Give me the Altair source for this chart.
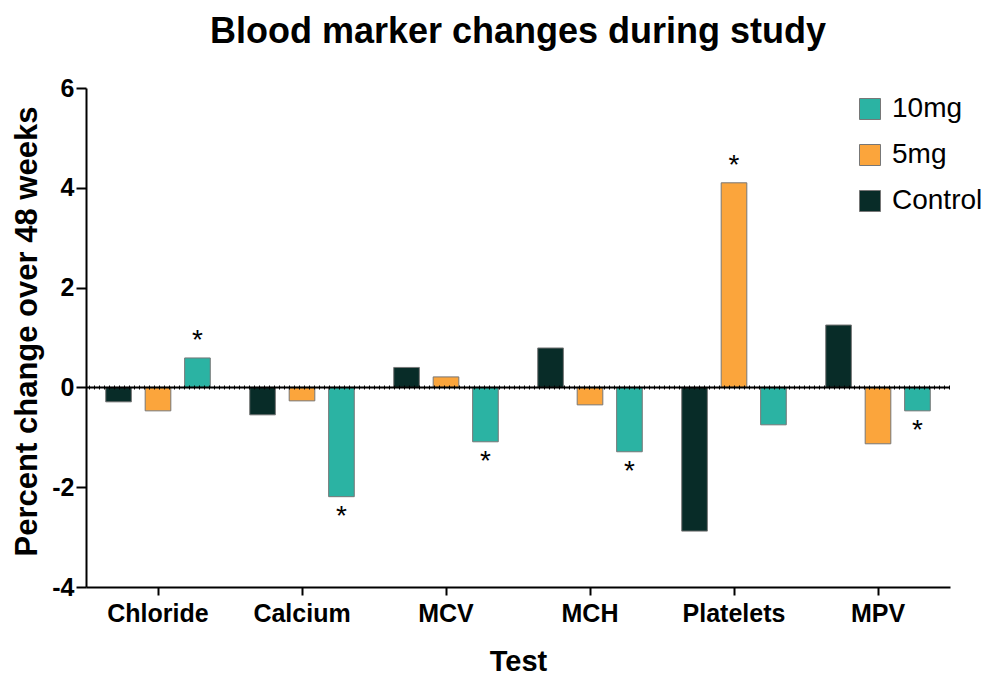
import altair as alt
import pandas as pd

tests = ["Chloride", "Calcium", "MCV", "MCH", "Platelets", "MPV"]
groups = ["Control", "5mg", "10mg"]
control = [-0.29, -0.55, 0.40, 0.79, -2.88, 1.25]
mg5 = [-0.47, -0.27, 0.21, -0.35, 4.10, -1.13]
mg10 = [0.59, -2.19, -1.09, -1.29, -0.75, -0.47]
sig_tests = ["Chloride", "Calcium", "MCV", "MCH", "Platelets", "MPV"]
sig_groups = ["10mg", "10mg", "10mg", "10mg", "5mg", "10mg"]
y_ticks = [-4, -2, 0, 2, 4, 6]

colors = {"10mg": "#2BB3A3", "5mg": "#FBA53C", "Control": "#082C28"}
FONT = "Liberation Sans"

rows = []
for g, vals in zip(groups, [control, mg5, mg10]):
    for t, v in zip(tests, vals):
        rows.append({"Test": t, "Group": g, "Value": v})
df = pd.DataFrame(rows)

sig = set(zip(sig_tests, sig_groups))
df["sig"] = [(r.Test, r.Group) in sig for r in df.itertuples()]

base = alt.Chart(df)

x_enc = alt.X("Test:N", sort=tests, title="Test",
              scale=alt.Scale(paddingInner=0, paddingOuter=0),
              axis=alt.Axis(labelAngle=0, labelFont=FONT, labelFontSize=25, labelFontWeight="bold",
                            labelColor="black", titleFont=FONT, titleFontSize=29, titleFontWeight="bold",
                            titleColor="black", titlePadding=21, tickSize=8, tickWidth=2, tickColor="black",
                            domainColor="black", domainWidth=2, labelPadding=6))
xo = alt.XOffset("Group:N", sort=groups,
                 scale=alt.Scale(domain=groups, paddingInner=0.35, paddingOuter=0.5))
y_enc = alt.Y("Value:Q", title="Percent change over 48 weeks",
              scale=alt.Scale(domain=[-4, 6], nice=False, zero=False),
              axis=alt.Axis(values=y_ticks, grid=False, labelExpr="'' + datum.value",
                            labelFont=FONT, labelFontSize=25,
                            labelFontWeight="bold", labelColor="black", titleFont=FONT, titleFontSize=31,
                            titleFontWeight="bold", titleColor="black", titlePadding=8, titleY=243,
                            tickSize=10, tickWidth=2, tickColor="black", domainColor="black",
                            domainWidth=2, labelPadding=2))

bars = base.mark_bar(stroke="#777777", strokeWidth=1).encode(
    x=x_enc, xOffset=xo, y=y_enc,
    color=alt.Color("Group:N", scale=alt.Scale(domain=["10mg", "5mg", "Control"],
                                               range=[colors["10mg"], colors["5mg"], colors["Control"]]),
                    legend=alt.Legend(title=None, orient="none", legendX=770, legendY=7,
                                      symbolType="square", symbolSize=441, symbolStrokeColor="#777777",
                                      symbolStrokeWidth=1, symbolOpacity=1, labelFont=FONT,
                                      labelFontSize=28, labelColor="black", rowPadding=18,
                                      labelOffset=8, padding=0)),
)

star_up = base.transform_filter("datum.sig && datum.Value >= 0").mark_text(
    text="*", font=FONT, fontSize=28, baseline="alphabetic", dy=-9, color="black"
).encode(x=alt.X("Test:N", sort=tests), xOffset=xo, y="Value:Q")
star_dn = base.transform_filter("datum.sig && datum.Value < 0").mark_text(
    text="*", font=FONT, fontSize=28, baseline="alphabetic", dy=28, color="black"
).encode(x=alt.X("Test:N", sort=tests), xOffset=xo, y="Value:Q")

zero = alt.Chart(pd.DataFrame({"z": [0]})).mark_rule(color="black", strokeWidth=2).encode(y="z:Q")
zero_d = alt.Chart(pd.DataFrame({"z": [0]})).mark_rule(color="black", strokeWidth=4, strokeDash=[1, 4]).encode(y="z:Q")

chart = alt.layer(bars, zero, zero_d, star_up, star_dn).properties(
    width=864, height=499,
    background="white",
    title=alt.TitleParams("Blood marker changes during study", font=FONT, fontSize=36, fontWeight="bold",
                          color="black", anchor="middle", offset=25),
    autosize=alt.AutoSizeParams(type="none"),
    padding={"left": 78, "top": 80, "right": 37, "bottom": 90},
).configure_view(stroke="transparent", strokeWidth=0)

chart.save("out.html", embed_options={"renderer": "svg", "actions": False})
